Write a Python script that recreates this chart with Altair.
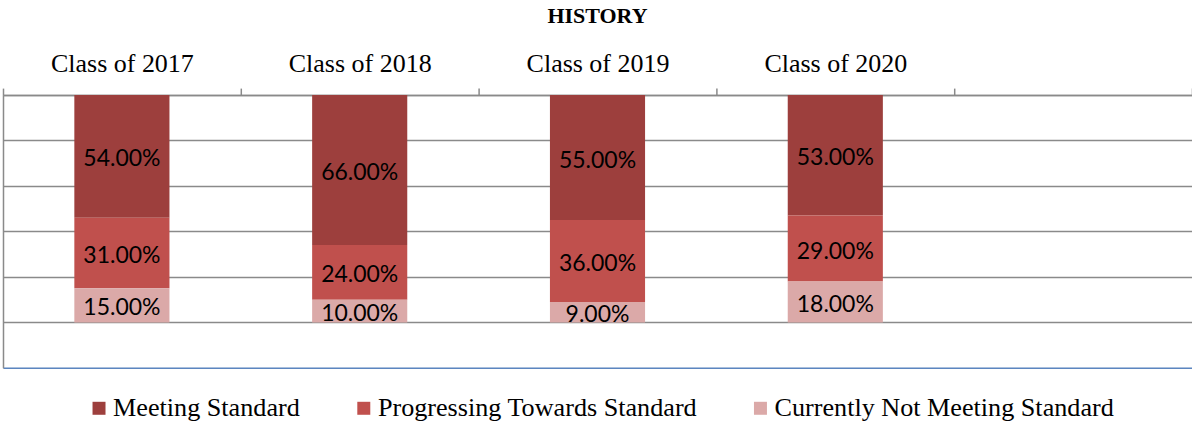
import altair as alt
import pandas as pd

classes = ["Class of 2017", "Class of 2018", "Class of 2019", "Class of 2020"]
series = ["Meeting Standard", "Progressing Towards Standard", "Currently Not Meeting Standard"]
meeting = [0.54, 0.66, 0.55, 0.53]
progressing = [0.31, 0.24, 0.36, 0.29]
not_meeting = [0.15, 0.10, 0.09, 0.18]
colors = ["#9d3f3d", "#c0504d", "#dba9a8"]
stack_rank = {"Currently Not Meeting Standard": 0, "Progressing Towards Standard": 1, "Meeting Standard": 2}

rows = []
for i, c in enumerate(classes):
    for s, vals in zip(series, [meeting, progressing, not_meeting]):
        rows.append({"cls": c, "series": s, "value": vals[i], "rank": stack_rank[s]})
df = pd.DataFrame(rows)

x_domain = classes + [" "]

base = alt.Chart(df).transform_stack(
    stack="value", as_=["y0", "y1"], groupby=["cls"], sort=[alt.SortField("rank", order="ascending")]
).transform_calculate(
    mid="(datum.y0 + datum.y1) / 2",
    label="format(datum.value, '.2%')",
)

x_enc = alt.X(
    "cls:N",
    scale=alt.Scale(domain=x_domain, paddingInner=0, paddingOuter=0),
    axis=alt.Axis(
        orient="top", title=None, labelAngle=0,
        labelFont="Liberation Serif", labelFontSize=26, labelColor="black",
        labelPadding=12, tickSize=7, tickColor="#8a8a8a", tickWidth=1.5,
        tickBand="extent", domainColor="#8a8a8a", domainWidth=1.5, grid=False,
    ),
)

y_scale = alt.Scale(domain=[-0.2, 1.0], nice=False, zero=False)

bars = base.mark_bar(width=alt.RelativeBandSize(0.4)).encode(
    x=x_enc,
    y=alt.Y(
        "y0:Q", scale=y_scale,
        axis=alt.Axis(
            title=None, labels=False, ticks=False, values=[-0.2, 0, 0.2, 0.4, 0.6, 0.8, 1.0],
            grid=True, gridColor={"expr": "datum.value < -0.1 ? '#5b85c0' : '#8a8a8a'"},
            gridWidth=1.5, domainColor="#8a8a8a", domainWidth=1.5,
        ),
    ),
    y2="y1:Q",
    color=alt.Color(
        "series:N",
        scale=alt.Scale(domain=series, range=colors),
        legend=alt.Legend(
            title=None, orient="none", legendX=83, legendY=300, direction="horizontal",
            columns=3, columnPadding=50, symbolType="square", symbolSize=169,
            symbolStrokeWidth=0, labelFont="Liberation Serif", labelFontSize=26.2,
            labelColor="black", labelOffset=1, labelLimit=500,
        ),
    ),
)

labels = base.mark_text(font="Lato", fontSize=23, color="black", dy=3).encode(
    x=alt.X("cls:N", scale=alt.Scale(domain=x_domain, paddingInner=0, paddingOuter=0)),
    y=alt.Y("mid:Q", scale=y_scale),
    text="label:N",
)

chart = alt.layer(bars, labels).properties(
    width=1190,
    height=273,
    padding={"left": 3, "top": 95, "right": 0, "bottom": 56},
    autosize=alt.AutoSizeParams(type="none"),
    title=alt.TitleParams(
        "HISTORY", font="Liberation Serif", fontSize=22, fontWeight="bold", color="black",
        anchor="middle", offset=22,
    ),
).configure_view(stroke=None).configure(background="white")

chart.save("out.html", embed_options={"renderer": "svg", "actions": False})
